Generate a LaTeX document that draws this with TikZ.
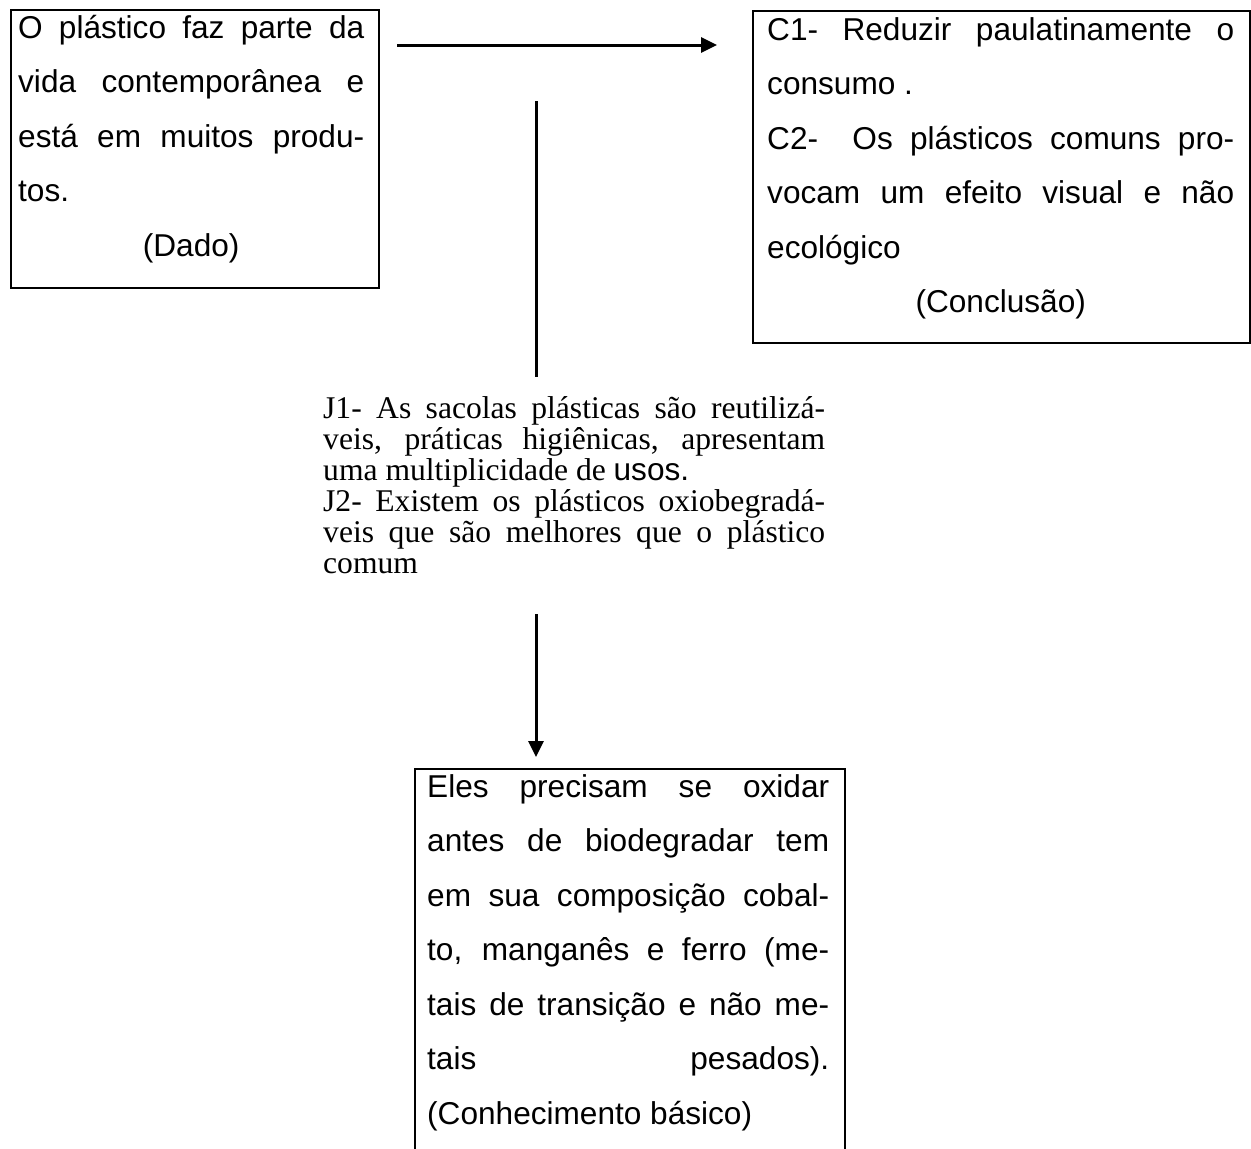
\documentclass[tikz,border=0pt]{standalone}
\usepackage{fontspec}
\setmainfont{Liberation Serif}
\newfontfamily\arialfont{Liberation Sans}
\usetikzlibrary{arrows.meta}

% plain justified paragraphs with hand-set line breaks
\newcommand\txtjustify{\leftskip=0pt\rightskip=0pt\parfillskip=0pt plus 1fil
  \spaceskip=0pt\xspaceskip=0pt
  \parindent=0pt\parskip=0pt\tolerance=10000\pretolerance=-1
  \hyphenpenalty=10000\exhyphenpenalty=10000}

\tikzset{
  frame/.style={draw, line width=2pt, anchor=north west, inner sep=0pt},
  body/.style={inner sep=0pt, anchor=base west, align=justify,
    font=\arialfont\fontsize{31.6}{54.5}\selectfont},
  warrant/.style={inner sep=0pt, anchor=base west, align=justify,
    font=\fontsize{31.6}{31}\selectfont},
  link/.style={line width=3pt, -{Triangle[length=16pt,width=15pt]}},
  stem/.style={line width=3pt}
}

\begin{document}
\begin{tikzpicture}[x=1pt,y=1pt]
\useasboundingbox (0,0) rectangle (1251,-1149);
\clip (0,0) rectangle (1251,-1149);

% boxes
\node[frame, minimum width=368pt, minimum height=278pt] (dadobox) at (10,-9) {};
\node[frame, minimum width=497pt, minimum height=332pt] (concbox) at (752,-10) {};
\node[frame, minimum width=430pt, minimum height=480pt] (conhbox) at (414,-768) {};

% datum
\node[body, text width=346pt] (dado) at (18,-38)
  {\txtjustify O plástico faz parte da\linebreak vida contemporânea e\linebreak
   está em muitos produ-\linebreak tos.\par{\centering (Dado)\par}};

% conclusion
\node[body, text width=467pt] (conc) at (767,-40)
  {\txtjustify C1- Reduzir paulatinamente o\linebreak consumo .\par
   C2-~ Os plásticos comuns pro-\linebreak vocam um efeito visual e não\linebreak
   ecológico\par{\centering (Conclusão)\par}};

% warrant
\node[warrant, text width=502pt] (just) at (323,-418)
  {\txtjustify J1- As sacolas plásticas são reutilizá-\linebreak
   veis, práticas higiênicas, apresentam\linebreak
   uma multiplicidade de {\arialfont usos.}\par
   J2- Existem os plásticos oxiobegradá-\linebreak
   veis que são melhores que o plástico\linebreak comum\par};

% backing
\node[body, text width=402pt] (conh) at (427,-797)
  {\txtjustify Eles precisam se oxidar\linebreak antes de biodegradar tem\linebreak
   em sua composição cobal-\linebreak to, manganês e ferro (me-\linebreak
   tais de transição e não me-\linebreak tais pesados).\linebreak
   (Conhecimento básico)\par};

% connectors
\coordinate (h0) at (397,-45);
\coordinate (h1) at (717,-45);
\coordinate (v0) at (536,-101);
\coordinate (v1) at (536,-377);
\coordinate (d0) at (536,-614);
\coordinate (d1) at (536,-757);
\draw[link] (h0) -- (h1);
\draw[stem] (v0) -- (v1);
\draw[link] (d0) -- (d1);
\end{tikzpicture}
\end{document}
